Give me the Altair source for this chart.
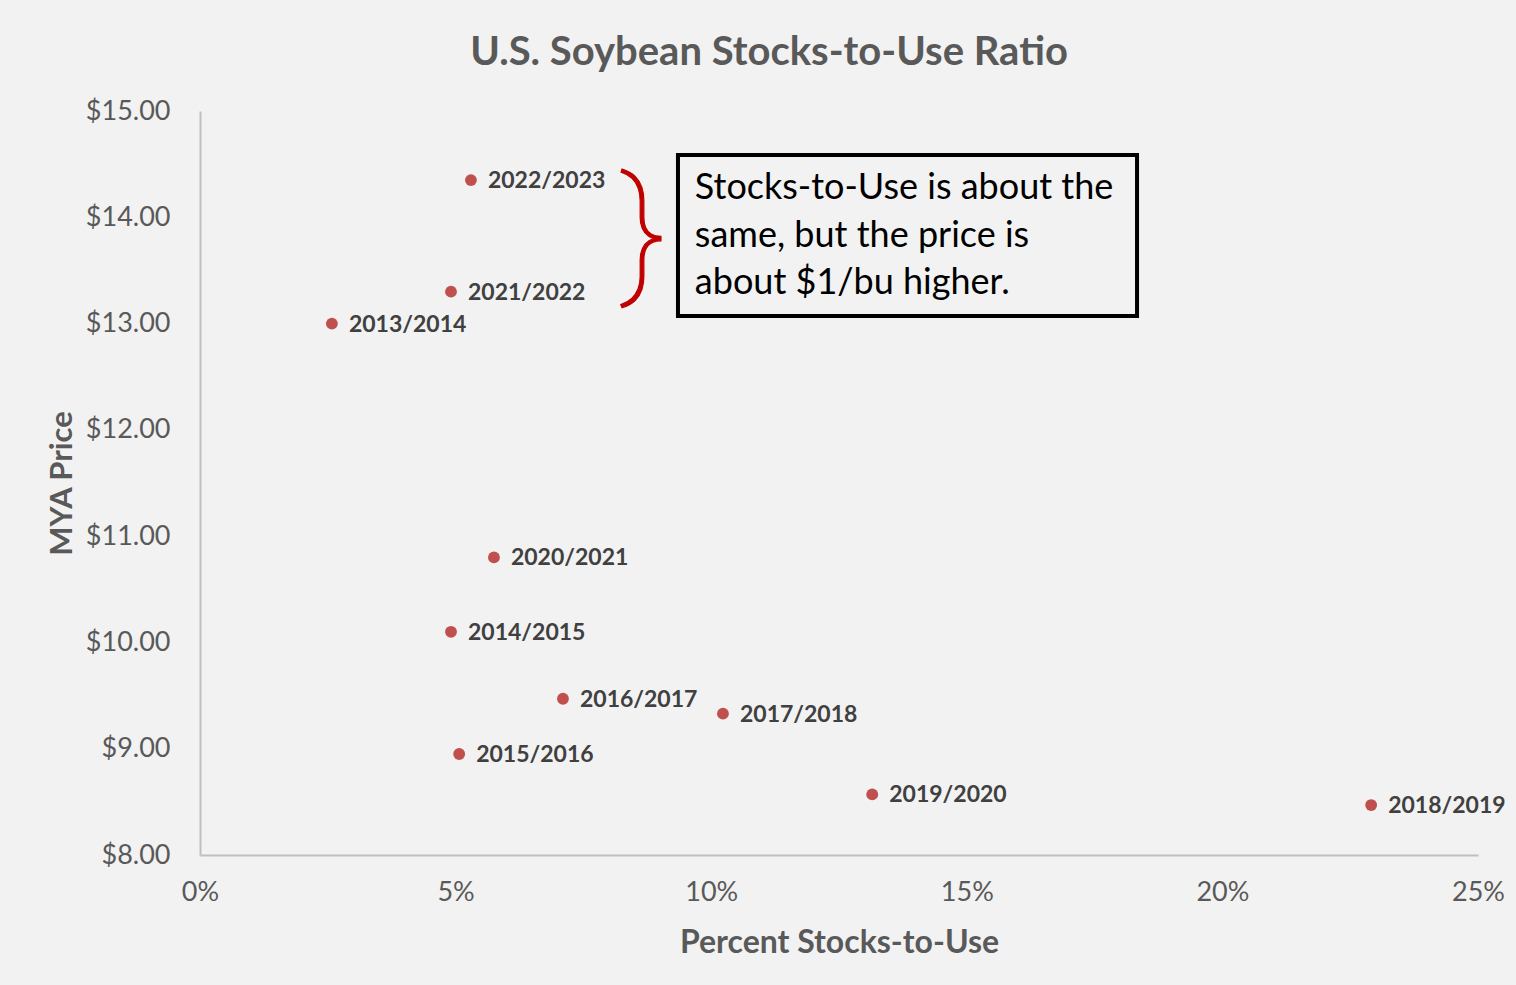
import altair as alt
import pandas as pd

# Data
seasons = ["2022/2023", "2021/2022", "2013/2014", "2020/2021", "2014/2015",
           "2016/2017", "2017/2018", "2015/2016", "2019/2020", "2018/2019"]
stocks_to_use = [0.0530, 0.0491, 0.0258, 0.0575, 0.0491,
                 0.0710, 0.1023, 0.0507, 0.1315, 0.2291]
mya_price = [14.35, 13.30, 13.00, 10.80, 10.10,
             9.47, 9.33, 8.95, 8.57, 8.47]

x_ticks = [0, 0.05, 0.10, 0.15, 0.20, 0.25]
y_ticks = [8, 9, 10, 11, 12, 13, 14, 15]

note_lines = ["Stocks-to-Use is about the", "same, but the price is", "about $1/bu higher."]

df = pd.DataFrame({"season": seasons, "stu": stocks_to_use, "price": mya_price})

FONT = "Lato"
GRAY = "#595959"

x_scale = alt.Scale(domain=[0, 0.25], nice=False, zero=False)
y_scale = alt.Scale(domain=[8, 15], nice=False, zero=False)

x_enc = alt.X("stu:Q", scale=x_scale,
              axis=alt.Axis(values=x_ticks, format=".0%", title="Percent Stocks-to-Use",
                            grid=False, ticks=False, domainColor="#bfbfbf", domainWidth=2,
                            labelFlush=False,
                            labelFont=FONT, labelFontSize=27, labelColor=GRAY, labelPadding=24,
                            titleFont=FONT, titleFontSize=32, titleFontWeight="bold",
                            titleColor=GRAY, titleY=97, titleBaseline="alphabetic"))
y_enc = alt.Y("price:Q", scale=y_scale,
              axis=alt.Axis(values=y_ticks, format="$.2f", title="MYA Price",
                            grid=False, ticks=False, domainColor="#bfbfbf", domainWidth=2,
                            labelFont=FONT, labelFontSize=27, labelColor=GRAY, labelPadding=30,
                            titleFont=FONT, titleFontSize=31, titleFontWeight="bold",
                            titleColor=GRAY, titleX=-129, titleBaseline="alphabetic"))

points = alt.Chart(df).mark_circle(size=140, color="#c0504d", opacity=1).encode(x=x_enc, y=y_enc)

labels = alt.Chart(df).mark_text(
    align="left", baseline="middle", dx=17, dy=1, font=FONT, fontSize=23,
    fontWeight="bold", color="#404040"
).encode(x="stu:Q", y="price:Q", text="season:N")

# Annotation box (in data units)
box_df = pd.DataFrame({"x1": [0.0935], "x2": [0.1833], "y1": [14.586], "y2": [13.071]})
box = alt.Chart(box_df).mark_rect(fill="#f2f2f2", stroke="black", strokeWidth=4).encode(
    x="x1:Q", x2="x2:Q", y="y1:Q", y2="y2:Q")

note_df = pd.DataFrame({"line": note_lines, "x": [0.0968] * 3, "y": [14.276, 13.824, 13.382]})
note = alt.Chart(note_df).mark_text(
    align="left", baseline="middle", font=FONT, fontSize=36, color="black"
).encode(x="x:Q", y="y:Q", text="line:N")

brace_df = pd.DataFrame({"b": ["}"], "x": [0.0867], "y": [13.824]})
brace = alt.Chart(brace_df).mark_text(
    align="center", baseline="middle", font="Roboto", fontWeight=100, fontSize=140,
    color="#c00000", stroke="#c00000", strokeWidth=1.2
).encode(x="x:Q", y="y:Q", text="b:N")

chart = alt.layer(points, labels, box, note, brace).properties(
    width=1278, height=744,
    title=alt.TitleParams("U.S. Soybean Stocks-to-Use Ratio", font=FONT, fontSize=40,
                          fontWeight="bold", color=GRAY, anchor="middle", dx=-70,
                          dy=52, offset=44, baseline="alphabetic"),
    autosize=alt.AutoSizeParams(type="none"),
    padding={"left": 200, "top": 111, "right": 38, "bottom": 130},
    background="#f2f2f2",
).configure_view(stroke=None)

chart.save("out.html", embed_options={"renderer": "svg", "actions": False})
